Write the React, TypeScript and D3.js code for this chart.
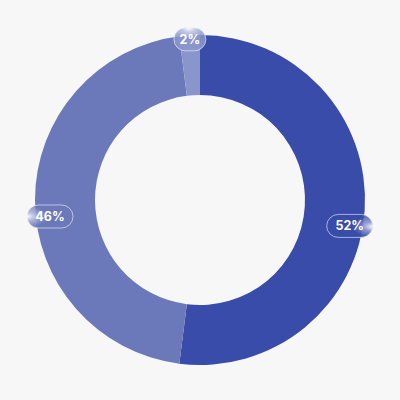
import React from "react";
import * as d3 from "d3";

const labels = ["A", "B", "C"];
const values = [52, 46, 2];
const colors = ["#3a4caa", "#6b79bb", "#8a96cb"];

export default function App() {
  const W = 400, H = 400, cx = 200, cy = 200;
  const outer = 165, inner = 105;
  const pie = d3.pie<number>().sort(null).value((d) => d);
  const arcs = pie(values);
  const arc = d3.arc<d3.PieArcDatum<number>>().innerRadius(inner).outerRadius(outer);
  return (
    <svg width={W} height={H} style={{ position: "absolute", left: 0, top: 0, background: "#f7f7f7" }}>
      <defs>
        {arcs.map((a, i) => {
          const mid = (a.startAngle + a.endAngle) / 2;
          const hx = 0.5 + 0.5 * Math.sin(mid);
          const hy = 0.5 - 0.5 * Math.cos(mid);
          return (
            <React.Fragment key={i}>
              <radialGradient id={"hl" + i} cx={hx} cy={hy} r={0.45} fx={hx} fy={hy}>
                <stop offset="0%" stopColor="#ffffff" stopOpacity={0.95} />
                <stop offset="45%" stopColor="#ffffff" stopOpacity={0.35} />
                <stop offset="100%" stopColor="#ffffff" stopOpacity={0} />
              </radialGradient>
              <linearGradient id={"bg" + i} x1="0" y1="0" x2="0" y2="1">
                <stop offset="0%" stopColor={colors[i]} stopOpacity={0.75} />
                <stop offset="100%" stopColor={colors[i]} stopOpacity={0.95} />
              </linearGradient>
            </React.Fragment>
          );
        })}
      </defs>
      <g transform={`translate(${cx},${cy})`}>
        {arcs.map((a, i) => (
          <path key={labels[i]} d={arc(a) || ""} fill={colors[i]} />
        ))}
        {arcs.map((a, i) => {
          const mid = (a.startAngle + a.endAngle) / 2;
          const small = values[i] < 5;
          const r = small ? 161 : 150;
          const dy = small ? 0 : 16.5;
          const x = r * Math.sin(mid);
          const y = -r * Math.cos(mid) + dy;
          const text = values[i] + "%";
          const w = small ? 32 : 46;
          const h = 23;
          return (
            <g key={"l" + i} transform={`translate(${x},${y})`}>
              <rect x={-w / 2} y={-h / 2} width={w} height={h} rx={h / 2} fill={`url(#bg${i})`} stroke="#ffffff" strokeOpacity={0.7} strokeWidth={0.8} />
              <rect x={-w / 2} y={-h / 2} width={w} height={h} rx={h / 2} fill={`url(#hl${i})`} />
              <text textAnchor="middle" dy="0.36em" fill="#ffffff" fontFamily="Inter, 'Open Sans', sans-serif" fontWeight={700} fontSize={12.5}>
                {text}
              </text>
            </g>
          );
        })}
      </g>
    </svg>
  );
}
